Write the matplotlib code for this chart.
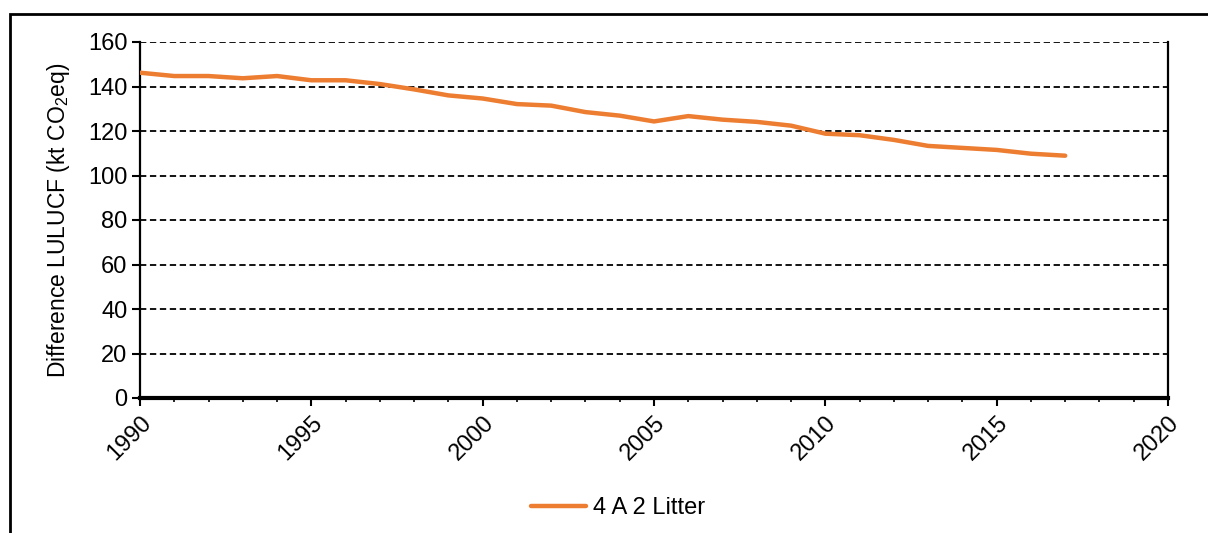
import matplotlib.pyplot as plt
from matplotlib.patches import Rectangle

plt.rcParams['font.family'] = ['Liberation Sans', 'DejaVu Sans']
plt.rcParams['mathtext.fontset'] = 'custom'
plt.rcParams['mathtext.rm'] = 'Liberation Sans'
plt.rcParams['mathtext.it'] = 'Liberation Sans'

years = list(range(1990, 2018))
litter = [146.2, 144.7, 144.7, 143.7, 144.7, 142.8, 142.8, 141.1, 138.7, 136.0,
          134.6, 132.1, 131.4, 128.5, 126.9, 124.3, 126.7, 125.1, 124.1, 122.4,
          118.8, 118.1, 116.0, 113.3, 112.4, 111.5, 109.8, 108.9]
series_name = "4 A 2 Litter"

fig = plt.figure(figsize=(12.08, 5.33), dpi=100)
ax = fig.add_axes([140 / 1208, 1 - 398 / 533, 1028 / 1208, 356 / 533])

# outer chart frame (only left/top edges visible in the source)
fig.patches.append(Rectangle((10 / 1208, -0.1), 1.2, 1 - 14 / 533 + 0.1,
                             transform=fig.transFigure, fill=False,
                             edgecolor='black', linewidth=2))

ax.plot(years, litter, color='#ED7D31', linewidth=3.2, label=series_name,
        solid_capstyle='round', zorder=3)

ax.set_xlim(1990, 2020)
ax.set_ylim(0, 160)
ax.set_xticks(range(1990, 2021, 5))
ax.set_xticks(range(1990, 2021), minor=True)
ax.set_yticks(range(0, 161, 20))
ax.yaxis.grid(True, color='black', linestyle=(0, (3.5, 2)), linewidth=1.3)
ax.set_axisbelow(True)

ax.spines['top'].set_visible(False)
ax.spines['left'].set_linewidth(1.6)
ax.spines['right'].set_linewidth(1.6)
ax.spines['bottom'].set_linewidth(3)

ax.tick_params(axis='both', which='major', direction='out', length=6, width=1.5,
               labelsize=17, colors='black')
ax.tick_params(axis='y', which='major', pad=3)
ax.tick_params(axis='x', which='major', pad=4)
ax.tick_params(axis='x', which='minor', direction='out', length=3, width=1.2)
plt.setp(ax.get_xticklabels(), rotation=45, ha='right', rotation_mode='anchor')

ax.set_ylabel("Difference LULUCF (kt CO$_2$eq)", fontsize=16.5)
ax.yaxis.set_label_coords(-68 / 1028, 0.5)

ax.legend(loc='center', bbox_to_anchor=(618 / 1208, 1 - 508 / 533),
          bbox_transform=fig.transFigure, frameon=False, fontsize=17,
          handlelength=2.3, handletextpad=0.3)

fig.savefig("out.png", dpi=100)
